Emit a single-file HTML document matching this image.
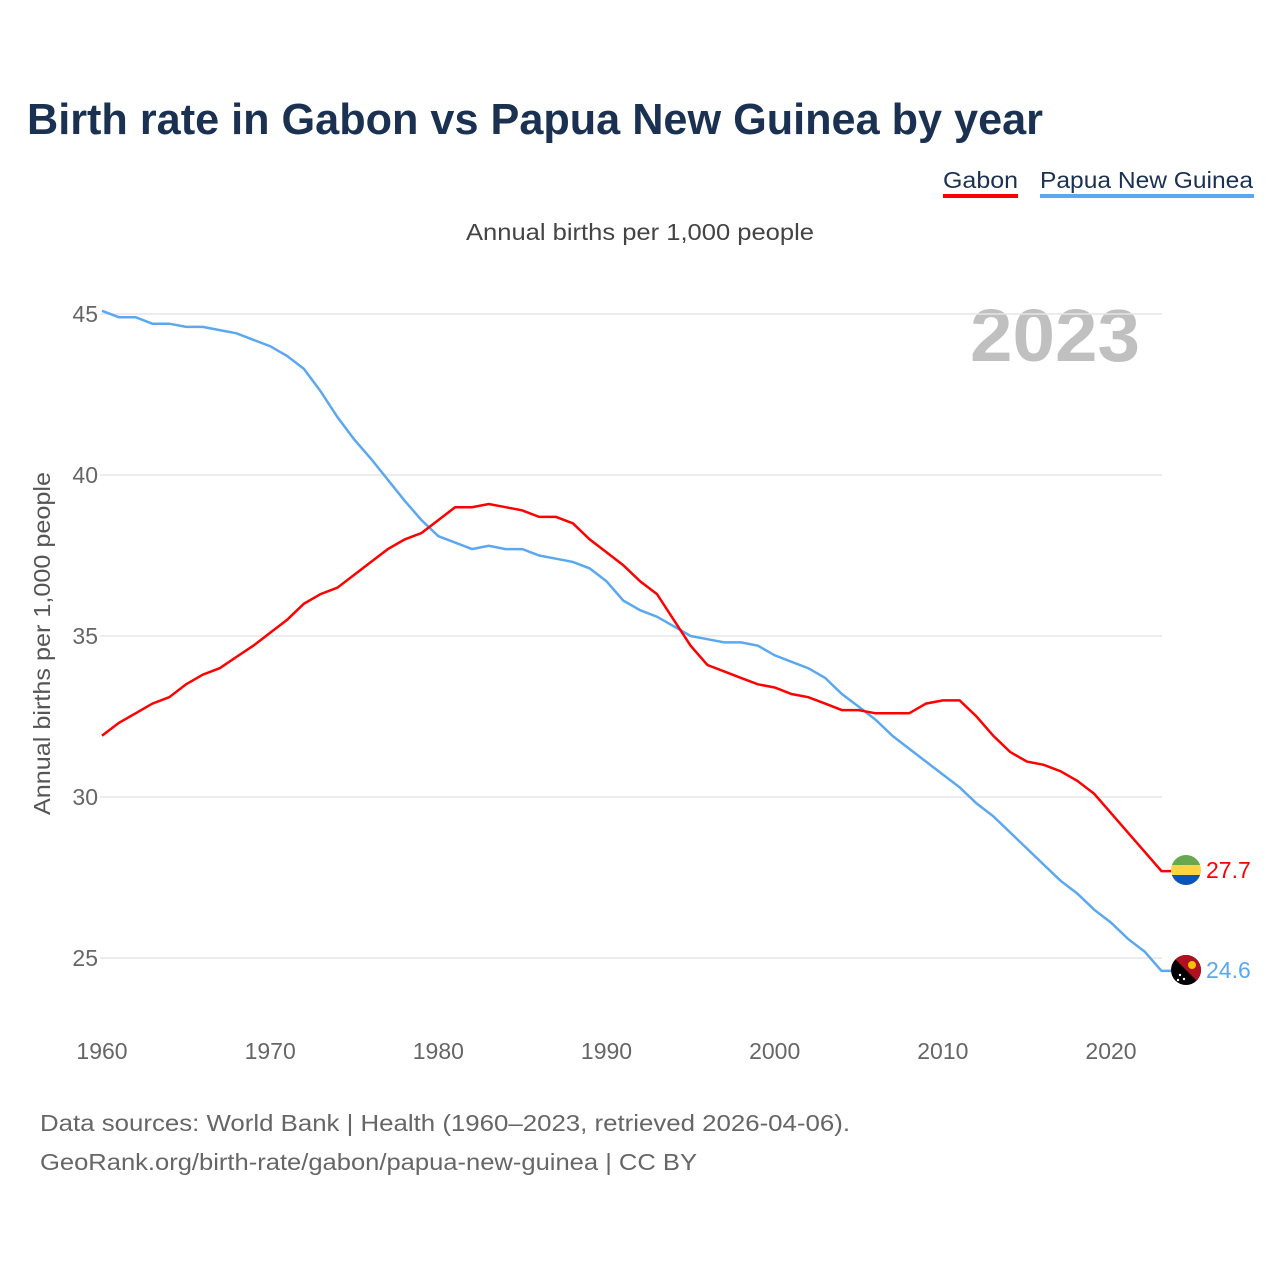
<!DOCTYPE html>
<html><head><meta charset="utf-8"><style>
body{margin:0;background:#fff;font-family:"Liberation Sans",sans-serif;}
svg text{font-family:"Liberation Sans",sans-serif;}
</style></head><body>
<svg width="1280" height="1280" viewBox="0 0 1280 1280">
<text x="27" y="134" font-size="44" font-weight="bold" fill="#1a3152" textLength="1016" lengthAdjust="spacingAndGlyphs">Birth rate in Gabon vs Papua New Guinea by year</text>
<g><text x="943" y="188" font-size="23" fill="#1a3152" textLength="75" lengthAdjust="spacingAndGlyphs">Gabon</text><rect x="943" y="194" width="75" height="4" fill="#ff0000"/></g>
<g><text x="1040" y="188" font-size="23" fill="#1a3152" textLength="213" lengthAdjust="spacingAndGlyphs">Papua New Guinea</text><rect x="1040" y="194" width="214" height="4" fill="#5ba8f0"/></g>
<text x="466" y="240" font-size="23" fill="#444" textLength="348" lengthAdjust="spacingAndGlyphs">Annual births per 1,000 people</text>
<text x="970" y="361" font-size="74" font-weight="bold" fill="#c0c0c0" textLength="170" lengthAdjust="spacingAndGlyphs">2023</text>
<text transform="translate(50,815) rotate(-90)" font-size="23" fill="#555" textLength="343" lengthAdjust="spacingAndGlyphs">Annual births per 1,000 people</text>
<g id="grid"></g><g id="xt"></g><g id="lines"></g>
<g>
<clipPath id="c1"><circle cx="1186" cy="870" r="15"/></clipPath>
<g clip-path="url(#c1)"><rect x="1171" y="855" width="30" height="10" fill="#6aa84f"/><rect x="1171" y="865" width="30" height="10" fill="#fcd444"/><rect x="1171" y="875" width="30" height="10" fill="#0a56b8"/></g></g>
<g>
<clipPath id="c2"><circle cx="1186" cy="970" r="15"/></clipPath>
<g clip-path="url(#c2)"><rect x="1171" y="955" width="30" height="30" fill="#000"/><polygon points="1171,955 1201,955 1201,985" fill="#b01020"/><circle cx="1192" cy="965" r="4" fill="#f5c400"/><circle cx="1180" cy="975" r="1.2" fill="#fff"/><circle cx="1184" cy="979" r="1.2" fill="#fff"/><circle cx="1178" cy="980" r="1.2" fill="#fff"/></g></g>
<text x="1206" y="878" font-size="23" fill="#ff0000">27.7</text>
<text x="1206" y="978" font-size="23" fill="#5ba8f0">24.6</text>
<text x="40" y="1131" font-size="23" fill="#666" textLength="810" lengthAdjust="spacingAndGlyphs">Data sources: World Bank | Health (1960–2023, retrieved 2026-04-06).</text>
<text x="40" y="1170" font-size="23" fill="#666" textLength="657" lengthAdjust="spacingAndGlyphs">GeoRank.org/birth-rate/gabon/papua-new-guinea | CC BY</text>
</svg>
<script>
const years=[];for(let y=1960;y<=2023;y++)years.push(y);
const gabon=[31.9,32.3,32.6,32.9,33.1,33.5,33.8,34.0,34.35,34.7,35.1,35.5,36.0,36.3,36.5,36.9,37.3,37.7,38.0,38.2,38.6,39.0,39.0,39.1,39.0,38.9,38.7,38.7,38.5,38.0,37.6,37.2,36.7,36.3,35.5,34.7,34.1,33.9,33.7,33.5,33.4,33.2,33.1,32.9,32.7,32.7,32.6,32.6,32.6,32.9,33.0,33.0,32.5,31.9,31.4,31.1,31.0,30.8,30.5,30.1,29.5,28.9,28.3,27.7];
const png=[45.1,44.9,44.9,44.7,44.7,44.6,44.6,44.5,44.4,44.2,44.0,43.7,43.3,42.6,41.8,41.1,40.5,39.85,39.2,38.6,38.1,37.9,37.7,37.8,37.7,37.7,37.5,37.4,37.3,37.1,36.7,36.1,35.8,35.6,35.3,35.0,34.9,34.8,34.8,34.7,34.4,34.2,34.0,33.7,33.2,32.8,32.4,31.9,31.5,31.1,30.7,30.3,29.8,29.4,28.9,28.4,27.9,27.4,27.0,26.5,26.1,25.6,25.2,24.6];
const yTicks=[25,30,35,40,45];
const xTicks=[1960,1970,1980,1990,2000,2010,2020];
const NS="http://www.w3.org/2000/svg";
const X=y=>102+(y-1960)*(1009/60);
const Y=v=>958-(v-25)*32.2;
const grid=document.getElementById('grid');
yTicks.forEach(t=>{
 const l=document.createElementNS(NS,'line');
 l.setAttribute('x1',100);l.setAttribute('x2',1162);l.setAttribute('y1',Y(t));l.setAttribute('y2',Y(t));
 l.setAttribute('stroke','#e6e6e6');l.setAttribute('stroke-width','1.5');
 
 
 grid.appendChild(l);
 const tx=document.createElementNS(NS,'text');
 tx.setAttribute('x',98);tx.setAttribute('y',Y(t)+8);tx.setAttribute('text-anchor','end');
 tx.setAttribute('font-size','23');tx.setAttribute('fill','#666');tx.textContent=t;
 
 
 grid.appendChild(tx);
});
const xt=document.getElementById('xt');
xTicks.forEach(t=>{
 const tx=document.createElementNS(NS,'text');
 tx.setAttribute('x',X(t));tx.setAttribute('y',1059);tx.setAttribute('text-anchor','middle');
 tx.setAttribute('font-size','23');tx.setAttribute('fill','#666');tx.textContent=t;
 
 
 xt.appendChild(tx);
});
const lines=document.getElementById('lines');
function draw(vals,color,name){
 let d=vals.map((v,i)=>(i?'L':'M')+X(years[i]).toFixed(1)+','+Y(v).toFixed(1)).join(' ');
 d+=' L1171,'+Y(vals[vals.length-1]).toFixed(1);
 const p=document.createElementNS(NS,'path');
 p.setAttribute('d',d);p.setAttribute('fill','none');p.setAttribute('stroke',color);p.setAttribute('stroke-width','2.5');
 
 
 lines.appendChild(p);
}
draw(png,'#5ba8f0','png-line');
draw(gabon,'#ff0000','gabon-line');
</script>
</body></html>
